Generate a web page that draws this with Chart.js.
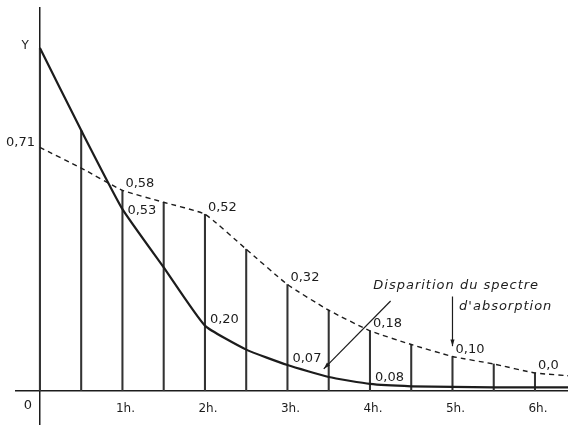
<!DOCTYPE html>
<html>
<head>
<meta charset="utf-8">
<script src="https://cdn.jsdelivr.net/npm/chart.js@4/dist/chart.umd.min.js"></script>
<style>
  html, body { margin:0; padding:0; background:#fff; }
  #wrap { width:568px; height:425px; }
</style>
</head>
<body>
<div id="wrap"><canvas id="absorption-canvas"></canvas></div>
<script>
let hours      = [0, 0.5, 1, 1.5, 2, 2.5, 3, 3.5, 4, 4.5, 5, 5.5, 6, 6.5];
let solidY     = [1.0, 0.76, 0.53, 0.36, 0.19, 0.12, 0.075, 0.04, 0.02, 0.013, 0.011, 0.01, 0.01, 0.01];
let dashedY    = [0.71, 0.65, 0.585, 0.55, 0.515, 0.413, 0.31, 0.235, 0.175, 0.135, 0.10, 0.078, 0.052, 0.042];
let tickHours  = [1, 2, 3, 4, 5, 6];
let tickText   = ['1h.', '2h.', '3h.', '4h.', '5h.', '6h.'];

let dashedLabelHours = [0, 1, 2, 3, 4, 5, 6];
let dashedLabelText  = ['0,71', '0,58', '0,52', '0,32', '0,18', '0,10', '0,0'];
let solidLabelHours  = [1, 2, 3, 4];
let solidLabelText   = ['0,53', '0,20', '0,07', '0,08'];

let noteLines  = ['Disparition du spectre', "d'absorption"];
let notePos    = [[4.04, 0.306], [5.08, 0.245]];
let arrows     = [[[4.25, 0.262], [3.44, 0.064]], [[5, 0.275], [5, 0.13]]];

let ink = '#1c1c1c';
let labelFont = '13px "DejaVu Sans", sans-serif';

// vertical drop lines go up to whichever curve is higher
let drops = hours.map((h, i) => ({x: h, y: Math.max(solidY[i], dashedY[i])}));

let notesPlugin = {
  id: 'notes',
  afterDatasetsDraw(chart) {
    let ctx = chart.ctx, xs = chart.scales.x, ys = chart.scales.y;
    let px = v => xs.getPixelForValue(v), py = v => ys.getPixelForValue(v);
    ctx.save();
    ctx.fillStyle = ink;
    ctx.strokeStyle = ink;
    ctx.font = labelFont;
    ctx.textBaseline = 'middle';

    dashedLabelHours.forEach((h, k) => {
      let i = hours.indexOf(h);
      if (h === 0) {
        ctx.textAlign = 'right';
        ctx.fillText(dashedLabelText[k], px(h) - 5, py(dashedY[i]) - 5);
      } else {
        ctx.textAlign = 'left';
        ctx.fillText(dashedLabelText[k], px(h) + 3, py(dashedY[i]) - 7);
      }
    });
    ctx.textAlign = 'left';
    solidLabelHours.forEach((h, k) => {
      let i = hours.indexOf(h);
      let off = h === 1 ? 1 : -6;
      ctx.fillText(solidLabelText[k], px(h) + 5, py(solidY[i]) + off);
    });

    // origin and Y
    ctx.textAlign = 'right';
    ctx.fillText('0', px(0) - 8, py(0) + 15);
    ctx.font = '12px "DejaVu Sans", sans-serif';
    ctx.fillText('Y', px(0) - 11, py(solidY[0]) - 2);

    // note text
    ctx.textAlign = 'left';
    ctx.font = 'italic 13px "DejaVu Sans", sans-serif';
    try { ctx.letterSpacing = '1px'; } catch (e) {}
    noteLines.forEach((t, k) => ctx.fillText(t, px(notePos[k][0]), py(notePos[k][1])));
    try { ctx.letterSpacing = '0px'; } catch (e) {}

    // arrows
    ctx.lineWidth = 1.2;
    arrows.forEach(a => {
      let x1 = px(a[0][0]), y1 = py(a[0][1]), x2 = px(a[1][0]), y2 = py(a[1][1]);
      ctx.beginPath();
      ctx.moveTo(x1, y1);
      ctx.lineTo(x2, y2);
      ctx.stroke();
      let ang = Math.atan2(y2 - y1, x2 - x1);
      ctx.beginPath();
      ctx.moveTo(x2, y2);
      ctx.lineTo(x2 - 7 * Math.cos(ang - 0.3), y2 - 7 * Math.sin(ang - 0.3));
      ctx.lineTo(x2 - 7 * Math.cos(ang + 0.3), y2 - 7 * Math.sin(ang + 0.3));
      ctx.closePath();
      ctx.fill();
    });
    ctx.restore();
  }
};

var ctx = document.getElementById('absorption-canvas').getContext('2d');
window.absChart = new Chart(ctx, {
  type: 'line',
  data: {
    datasets: [
      {
        label: 'Y',
        data: hours.map((h, i) => ({x: h, y: solidY[i]})),
        borderColor: ink,
        borderWidth: 2.2,
        pointRadius: 0,
        tension: 0.15,
        fill: false,
      },
      {
        label: 'absorption',
        data: hours.map((h, i) => ({x: h, y: dashedY[i]})),
        borderColor: ink,
        borderWidth: 1.4,
        borderDash: [5, 4],
        pointRadius: 0,
        tension: 0.15,
        fill: false,
      },
      {
        type: 'bar',
        label: 'drops',
        data: drops,
        backgroundColor: '#333',
        barThickness: 1.4,
      }
    ]
  },
  options: {
    responsive: true,
    maintainAspectRatio: false,
    animation: false,
    events: [],
    layout: { padding: { left: 16, top: 8, right: 0, bottom: 0 } },
    plugins: {
      legend: { display: false },
      title: { display: false },
      tooltip: { enabled: false }
    },
    scales: {
      x: {
        type: 'linear',
        min: -0.29,
        max: 6.4,
        offset: false,
        position: { y: 0 },
        grid: { display: false },
        border: { display: true, color: ink, width: 1.5 },
        afterBuildTicks: s => { s.ticks = tickHours.map(v => ({value: v})); },
        ticks: {
          autoSkip: false,
          maxRotation: 0,
          padding: 3,
          labelOffset: 3,
          color: ink,
          font: { family: '"DejaVu Sans", sans-serif', size: 12 },
          callback: v => tickText[tickHours.indexOf(v)]
        }
      },
      y: {
        type: 'linear',
        min: -0.1,
        max: 1.117,
        position: { x: 0 },
        grid: { display: false },
        border: { display: true, color: ink, width: 1.5 },
        ticks: { display: false }
      }
    }
  },
  plugins: [notesPlugin]
});
</script>
</body>
</html>
